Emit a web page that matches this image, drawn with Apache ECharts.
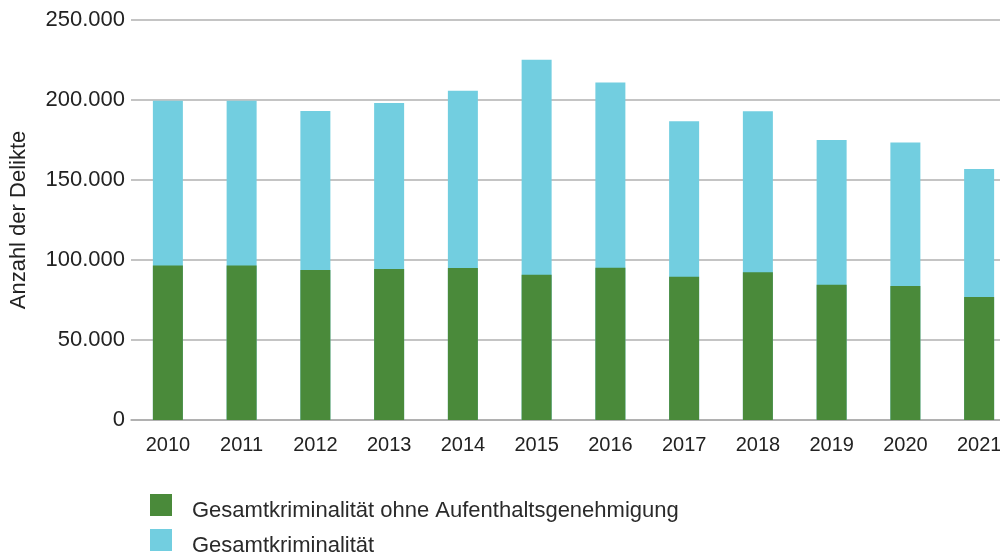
<!DOCTYPE html>
<html>
<head>
<meta charset="utf-8">
<script src="https://cdn.jsdelivr.net/npm/echarts@6/dist/echarts.min.js"></script>
<style>
  html, body { margin: 0; padding: 0; background: #fff; overflow: hidden; }
  #chart { width: 1016px; height: 557px; }
</style>
</head>
<body>
<div id="chart"></div>
<script>
// Jahre und Deliktzahlen
const years = ['2010','2011','2012','2013','2014','2015','2016','2017','2018','2019','2020','2021'];
const gesamt = [199500, 199600, 193100, 198100, 205800, 225200, 211000, 186700, 192900, 175000, 173500, 156900];
const ohneAufenthalt = [96500, 96500, 93800, 94400, 95000, 90800, 95200, 89600, 92300, 84600, 83800, 76900];
const yTicks = [0, 50000, 100000, 150000, 200000, 250000];

const nameOhne = 'Gesamtkriminalität ohne Aufenthaltsgenehmigung';
const nameGesamt = 'Gesamtkriminalität';
const fontFam = '"Liberation Sans", Arial, sans-serif';

function fmt(v) {
  return String(v).replace(/\B(?=(\d{3})+(?!\d))/g, '.');
}

// Die Zeichenfläche ist etwas breiter als das Fenster; die letzte Kategorie ragt über den Rand hinaus.
const chart = echarts.init(document.getElementById('chart'), null, { renderer: 'canvas' });
chart.setOption({
  animation: false,
  textStyle: { fontFamily: fontFam },
  grid: { left: 127, right: 0, top: 20, bottom: 137, containLabel: false },
  legend: {
    orient: 'vertical',
    left: 150,
    top: 494,
    padding: 0,
    itemWidth: 22,
    itemHeight: 22,
    itemGap: 7,
    icon: 'rect',
    data: [nameOhne, nameGesamt],
    // Beschriftung leicht unterhalb der Symbolmitte
    formatter: function (name) { return '{t|' + name + '}'; },
    textStyle: {
      fontSize: 22, color: '#2a2a2a', fontFamily: fontFam,
      rich: { t: { fontSize: 22, color: '#2a2a2a', fontFamily: fontFam, padding: [12, 0, 0, 15] } }
    }
  },
  xAxis: {
    type: 'category',
    data: years,
    axisLine: { lineStyle: { color: '#aaaaaa', width: 1.5 } },
    axisTick: { alignWithLabel: true, length: 7, lineStyle: { color: '#aaaaaa', width: 1.5 } },
    axisLabel: { fontSize: 20, color: '#222', margin: 15, fontFamily: fontFam }
  },
  yAxis: {
    type: 'value',
    min: yTicks[0],
    max: yTicks[yTicks.length - 1],
    interval: yTicks[1] - yTicks[0],
    name: 'Anzahl der Delikte',
    nameLocation: 'middle',
    nameGap: 101,
    nameRotate: 90,
    nameTextStyle: { fontSize: 22, color: '#222', fontFamily: fontFam },
    axisLine: { show: false },
    axisTick: { show: false },
    axisLabel: { fontSize: 22, color: '#222', margin: 6, formatter: fmt, fontFamily: fontFam },
    splitLine: { lineStyle: { color: '#b0b0b0', width: 1.5 } }
  },
  series: [
    {
      name: nameGesamt,
      type: 'bar',
      data: gesamt,
      barWidth: 30,
      barGap: '-100%',
      itemStyle: { color: '#72cee0' }
    },
    {
      name: nameOhne,
      type: 'bar',
      data: ohneAufenthalt,
      barWidth: 30,
      barGap: '-100%',
      itemStyle: { color: '#4a8a3a' }
    }
  ]
});
</script>
</body>
</html>
